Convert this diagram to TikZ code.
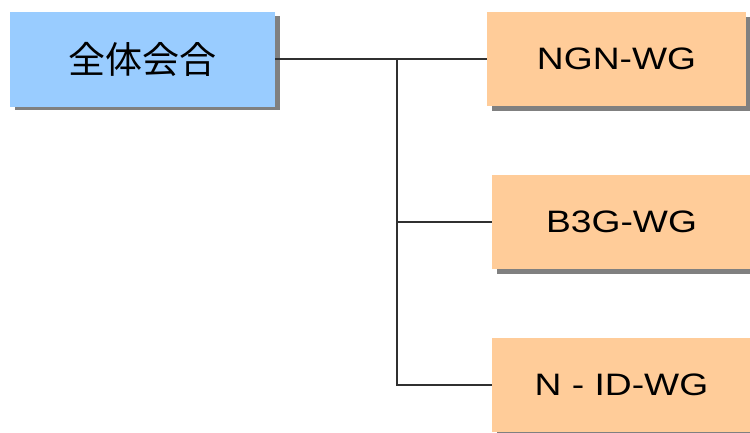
\documentclass[tikz,border=0pt]{standalone}
\usepackage{fontspec}
\setmainfont{Liberation Sans}
\newfontfamily\cjk{Noto Sans CJK JP}
\definecolor{boxblue}{HTML}{99CCFF}
\definecolor{boxorange}{HTML}{FFCC99}
\definecolor{shadowgray}{HTML}{808080}
\definecolor{linegray}{HTML}{303030}
\begin{document}
\begin{tikzpicture}[x=1pt,y=-1pt,
  wgbox/.style={fill=boxorange,draw=none,minimum width=259pt,minimum height=94pt,inner sep=0pt,
    font=\fontsize{31}{31}\selectfont},
  topbox/.style={fill=boxblue,draw=none,minimum width=265pt,minimum height=95pt,inner sep=0pt,
    font=\cjk\fontsize{37}{37}\selectfont},
  conn/.style={draw=linegray,line width=2.4pt}]
\useasboundingbox (0,0) rectangle (750,432);
\clip (0,0) rectangle (750,432);
% shadows
\fill[shadowgray] (15,16) rectangle (280,110);
\fill[shadowgray] (492,17) rectangle (751,111);
\fill[shadowgray] (497,180) rectangle (756,274);
\fill[shadowgray] (497,343) rectangle (756,437);
% boxes
\node[topbox] (top) at (142.5,59) {全体会合};
\node[wgbox] (ngn) at (616.5,59) {\scalebox{1.2}[1]{NGN-WG}};
\node[wgbox] (b3g) at (621.5,222) {\scalebox{1.2}[1]{B3G-WG}};
\node[wgbox] (nid) at (621.5,385) {\scalebox{1.2}[1]{N - ID-WG}};
% connectors
\coordinate (j1) at (397,59);
\coordinate (j2) at (397,222);
\coordinate (j3) at (397,385);
\draw[conn] (top.east) -- (ngn.west);
\draw[conn] (j1) -- (j3) -- (nid.west);
\draw[conn] (j2) -- (b3g.west);
\end{tikzpicture}
\end{document}
